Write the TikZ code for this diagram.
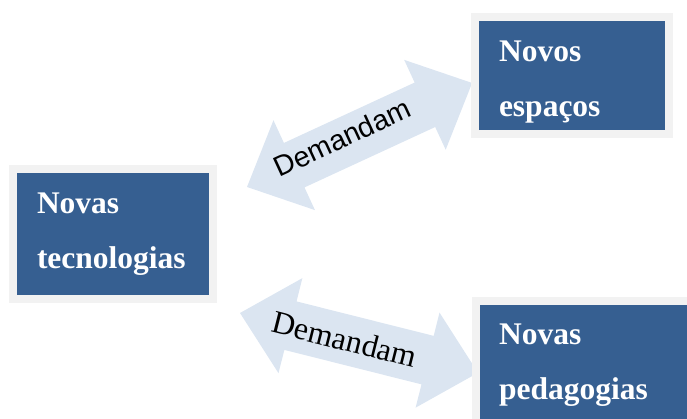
\documentclass[tikz,border=0pt]{standalone}
\usepackage{fontspec}
\setmainfont{Liberation Serif}
\newfontfamily\arialfont{Liberation Sans}
\usetikzlibrary{positioning}
\definecolor{boxblue}{HTML}{365F91}
\definecolor{framegray}{HTML}{F2F2F2}
\definecolor{arrowblue}{HTML}{DBE5F1}
\tikzset{
    bluebox/.style={rectangle, fill=boxblue, draw=framegray, line width=8pt, text=white, align=left, font=\fontsize{31.5}{55}\selectfont\bfseries, inner sep=0pt},
    fatarrow/.style={fill=arrowblue},
    arrowtext/.style={inner sep=0pt, text=black},
}
\begin{document}
\begin{tikzpicture}[x=1pt,y=1pt]
  \useasboundingbox (0,0) rectangle (687,419);
  \clip (0,0) rectangle (687,419);

  % block arrows
  \begin{scope}[shift={(247,232)}, rotate=24.8]
    \fill[fatarrow] (0,0) -- (52,49.5) -- (52,24.5) -- (196,24.5) -- (196,49.5) -- (248,0)
      -- (196,-49.5) -- (196,-24.5) -- (52,-24.5) -- (52,-49.5) -- cycle;
    \node[arrowtext, rotate=24.8, font=\arialfont\fontsize{28.5}{30}\selectfont] (upper label) at (107,5) {Demandam};
  \end{scope}
  \begin{scope}[shift={(240,106)}, rotate=-14.1]
    \fill[fatarrow] (0,0) -- (52,49) -- (52,25) -- (193.4,25) -- (193.4,49) -- (245.4,0)
      -- (193.4,-49) -- (193.4,-25) -- (52,-25) -- (52,-49) -- cycle;
    \node[arrowtext, rotate=-14.1, font=\fontsize{32}{34}\selectfont] (lower label) at (108,0) {Demandam};
  \end{scope}

  % boxes
  \node[bluebox, minimum width=200, minimum height=130, text width=152] (tecnologias) at (113,185) {Novas\\tecnologias};
  \node[bluebox, minimum width=194, minimum height=117, text width=146] (espacos) at (572,343.5) {\rule{0pt}{33pt}Novos\\espaços};
  \node[bluebox, minimum width=234, minimum height=129, text width=188] (pedagogias) at (593,53.5) {Novas\\pedagogias};
\end{tikzpicture}
\end{document}
